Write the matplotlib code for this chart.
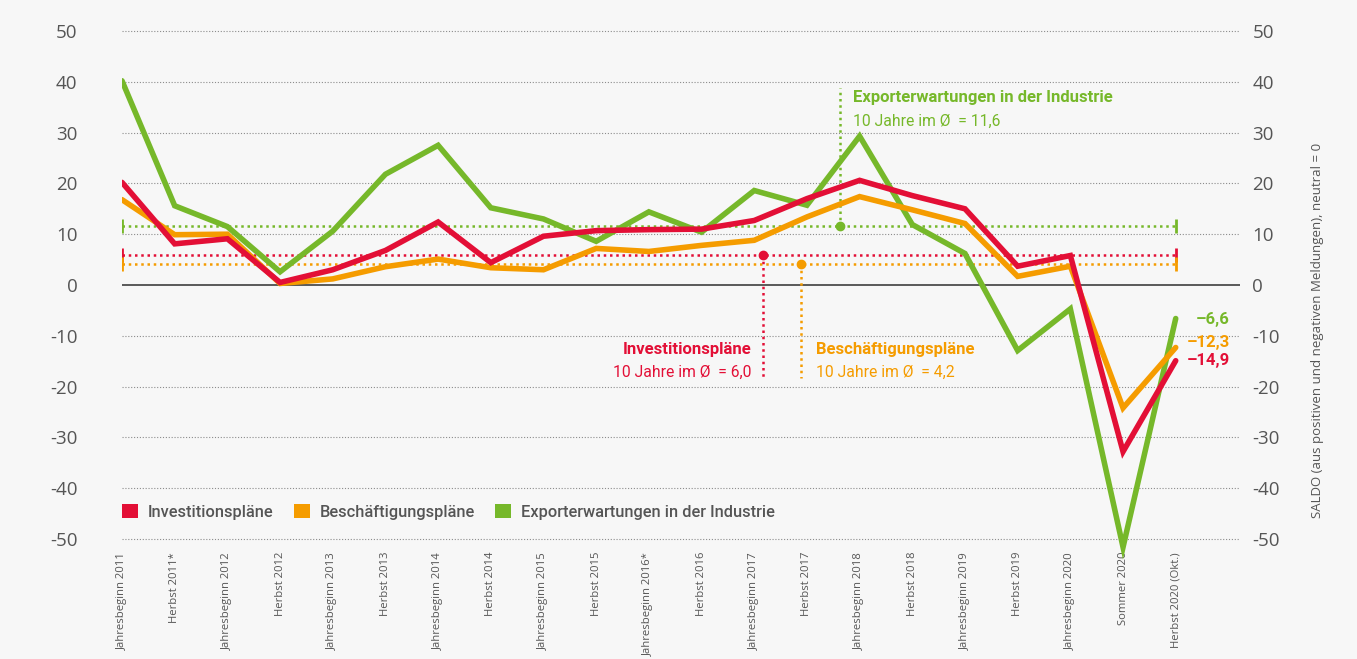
import matplotlib
matplotlib.use("Agg")
import matplotlib.pyplot as plt
from matplotlib.patches import Patch
from matplotlib import font_manager

categories = ["Jahresbeginn 2011", "Herbst 2011*", "Jahresbeginn 2012", "Herbst 2012",
              "Jahresbeginn 2013", "Herbst 2013", "Jahresbeginn 2014", "Herbst 2014",
              "Jahresbeginn 2015", "Herbst 2015", "Jahresbeginn 2016*", "Herbst 2016",
              "Jahresbeginn 2017", "Herbst 2017", "Jahresbeginn 2018", "Herbst 2018",
              "Jahresbeginn 2019", "Herbst 2019", "Jahresbeginn 2020", "Sommer 2020",
              "Herbst 2020 (Okt.)"]
investitionen = [20.2, 8.1, 9.1, 0.5, 3.0, 6.8, 12.4, 4.4, 9.6, 10.7, 10.9, 11.0,
                 12.7, 17.0, 20.6, 17.6, 15.0, 3.7, 5.8, -32.8, -14.9]
beschaeftigung = [16.8, 9.9, 10.0, 0.3, 1.2, 3.6, 5.1, 3.4, 3.0, 7.2, 6.6, 7.8,
                  8.8, 13.4, 17.4, 14.8, 12.1, 1.7, 3.7, -24.2, -12.3]
export = [40.2, 15.6, 11.5, 2.6, 10.6, 21.8, 27.5, 15.2, 13.0, 8.6, 14.4, 10.4,
          18.6, 15.7, 29.3, 11.9, 6.2, -12.9, -4.7, -51.6, -6.6]
avg_inv, avg_bes, avg_exp = 6.0, 4.2, 11.6
yticks = list(range(-50, 51, 10))

RED = "#e30f36"
ORANGE = "#f59c00"
GREEN = "#76b82a"
GRAY = "#555555"
BG = "#f7f7f7"

avail = {f.name for f in font_manager.fontManager.ttflist}
narrow = "Liberation Sans Narrow" if "Liberation Sans Narrow" in avail else "Roboto"
base = "Open Sans"

fig = plt.figure(figsize=(13.57, 6.59), dpi=100, facecolor=BG)
ax = fig.add_axes([122/1357, 1 - 564.4/659, (1240-122)/1357, 558.8/659])
ax.set_facecolor(BG)
ax.set_xlim(0, 21.22)
ax.set_ylim(-55, 55)
for s in ax.spines.values():
    s.set_visible(False)

for v in yticks:
    if v == 0:
        ax.axhline(0, color="#4d4d4d", lw=1.3, zorder=1)
    else:
        ax.axhline(v, color="#8c8c8c", lw=0.8, ls=(0, (1, 1.6)), zorder=1)

x = list(range(len(categories)))
n = len(categories) - 1

# average lines
for val, col in [(avg_exp, GREEN), (avg_inv, RED), (avg_bes, ORANGE)]:
    ax.plot([0, n], [val, val], color=col, lw=1.8, ls=(0, (1, 1.5)), zorder=2)
    ax.plot([0, n], [val, val], ls="none", marker="|", ms=10, mew=2, color=col, zorder=2)

# vertical annotation lines
ax.plot([13.62, 13.62], [avg_exp, 38.8], color=GREEN, lw=1.8, ls=(0, (1, 1.5)), zorder=2)
ax.plot([13.62], [avg_exp], "o", color=GREEN, ms=6, zorder=3)
ax.plot([12.17, 12.17], [avg_inv, -18.3], color=RED, lw=1.8, ls=(0, (1, 1.5)), zorder=2)
ax.plot([12.17], [avg_inv], "o", color=RED, ms=6, zorder=3)
ax.plot([12.89, 12.89], [avg_bes, -18.3], color=ORANGE, lw=1.8, ls=(0, (1, 1.5)), zorder=2)
ax.plot([12.89], [avg_bes], "o", color=ORANGE, ms=6, zorder=3)

lw = 4.0
ax.plot(x, export, color=GREEN, lw=lw, zorder=4, solid_capstyle="round", solid_joinstyle="miter")
ax.plot(x, beschaeftigung, color=ORANGE, lw=lw, zorder=5, solid_capstyle="round", solid_joinstyle="miter")
ax.plot(x, investitionen, color=RED, lw=lw, zorder=6, solid_capstyle="round", solid_joinstyle="miter")

# annotation texts
TS = 12
SS = 11.3
ax.text(13.87, 37.0, "Exporterwartungen in der Industrie", color=GREEN, fontsize=TS,
        fontweight="bold", family=narrow, ha="left", va="center")
ax.text(13.87, 32.3, "10 Jahre im Ø  = 11,6", color=GREEN, fontsize=SS,
        family=narrow, ha="left", va="center")
ax.text(11.95, -12.6, "Investitionspläne", color=RED, fontsize=TS,
        fontweight="bold", family=narrow, ha="right", va="center")
ax.text(11.95, -17.1, "10 Jahre im Ø  = 6,0", color=RED, fontsize=SS,
        family=narrow, ha="right", va="center")
ax.text(13.18, -12.6, "Beschäftigungspläne", color=ORANGE, fontsize=TS,
        fontweight="bold", family=narrow, ha="left", va="center")
ax.text(13.18, -17.1, "10 Jahre im Ø  = 4,2", color=ORANGE, fontsize=SS,
        family=narrow, ha="left", va="center")

# end labels
def fmt(v):
    return ("–" if v < 0 else "") + f"{abs(v):.1f}".replace(".", ",")
ax.text(21.03, -6.7, fmt(export[-1]), color=GREEN, fontsize=TS, fontweight="bold",
        family=narrow, ha="right", va="center")
ax.text(21.03, -11.4, fmt(beschaeftigung[-1]), color=ORANGE, fontsize=TS, fontweight="bold",
        family=narrow, ha="right", va="center")
ax.text(21.03, -14.8, fmt(investitionen[-1]), color=RED, fontsize=TS, fontweight="bold",
        family=narrow, ha="right", va="center")

# ticks
ax.set_xticks(x)
ax.set_xticklabels(categories, rotation=90, fontsize=8.1, color=GRAY, family=base,
                   ha="center", va="top")
ax.tick_params(axis="x", length=0, pad=-9)
ax.set_yticks(yticks)
ax.set_yticklabels([str(v) for v in yticks], fontsize=13.5, color=GRAY, family=base)
ax.tick_params(axis="y", length=0, pad=32)

ax2 = ax.twinx()
ax2.set_ylim(ax.get_ylim())
for s in ax2.spines.values():
    s.set_visible(False)
ax2.set_yticks(yticks)
ax2.set_yticklabels([str(v) for v in yticks], fontsize=13.5, color=GRAY, family=base)
ax2.tick_params(axis="y", length=0, pad=9)

fig.text(1318/1357, 1 - 330/659, "SALDO (aus positiven und negativen Meldungen), neutral = 0",
         rotation=90, fontsize=9.5, color=GRAY, family=base, ha="center", va="center")

handles = [Patch(facecolor=RED, edgecolor="none"),
           Patch(facecolor=ORANGE, edgecolor="none"),
           Patch(facecolor=GREEN, edgecolor="none")]
leg = ax.legend(handles, ["Investitionspläne", "Beschäftigungspläne", "Exporterwartungen in der Industrie"],
                loc="center left", bbox_to_anchor=(122/1357, 1 - 512/659),
                bbox_transform=fig.transFigure, ncol=3, frameon=False,
                handlelength=0.97, handleheight=0.97, handletextpad=0.6,
                columnspacing=1.25, borderpad=0, borderaxespad=0,
                prop={"family": narrow, "size": 11.8, "weight": "medium"})
for t in leg.get_texts():
    t.set_color(GRAY)

fig.savefig("out.png", dpi=100, facecolor=BG)
